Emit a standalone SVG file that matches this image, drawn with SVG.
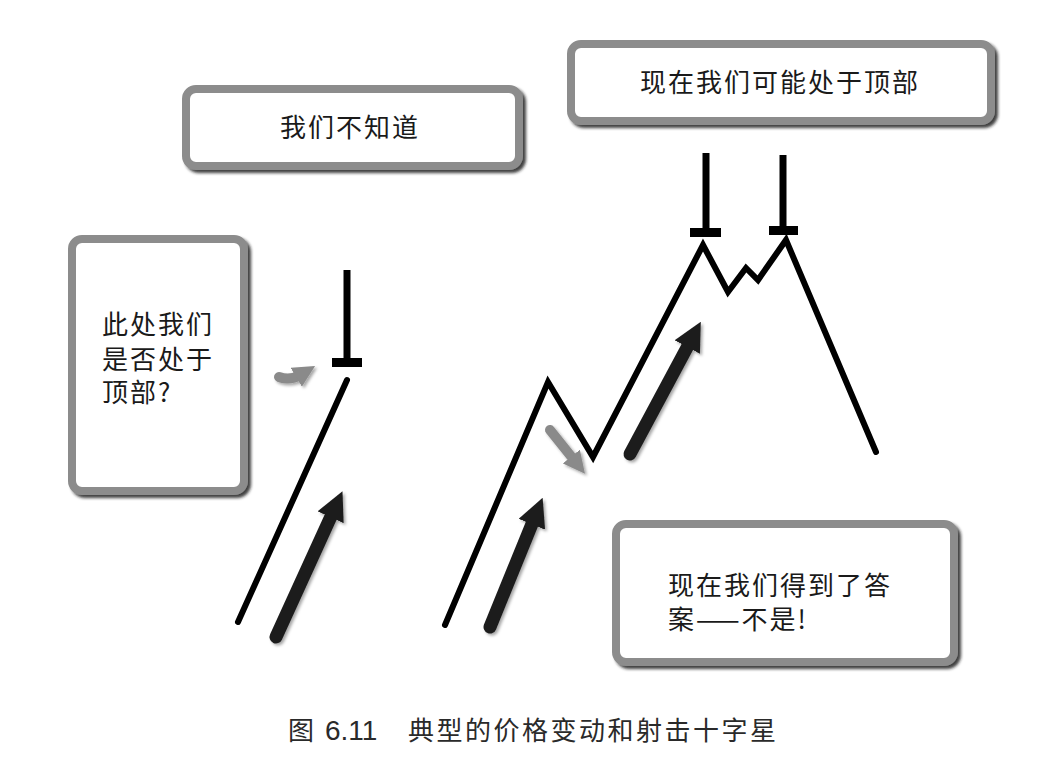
<svg xmlns="http://www.w3.org/2000/svg" width="1061" height="773" viewBox="0 0 1061 773">
<defs>
<style>
.box{fill:#fff;stroke:#8c8c8c;stroke-width:8;filter:url(#sh)}
.t{font-family:"Noto Sans CJK SC","Liberation Sans",sans-serif;font-size:26px;fill:#1a1a1a;letter-spacing:2px}
.cap{font-family:"Noto Sans CJK SC","Liberation Sans",sans-serif;font-size:26px;fill:#2a2a2a}
.num{font-family:"Liberation Sans",Arial,sans-serif;font-size:28px;fill:#2a2a2a}
.price{fill:none;stroke:#000;stroke-width:6;stroke-linejoin:miter;stroke-linecap:round}
.big{stroke:#1e1e1e;stroke-width:13;stroke-linecap:round;fill:none;marker-end:url(#hb);filter:url(#sa)}
.gray{stroke:#8a8a8a;stroke-width:10;stroke-linecap:round;fill:none;marker-end:url(#hg);filter:url(#sa)}
</style>
<filter id="sh" x="-10%" y="-10%" width="120%" height="130%">
<feDropShadow dx="3" dy="3" stdDeviation="1.5" flood-color="#1a1a1a" flood-opacity="0.85"/>
</filter>
<filter id="sa" filterUnits="userSpaceOnUse" x="0" y="0" width="1061" height="773">
<feDropShadow dx="2" dy="2" stdDeviation="1.5" flood-color="#000" flood-opacity="0.35"/>
</filter>
<marker id="hb" viewBox="0 0 10 10" refX="2" refY="5" markerWidth="2.2" markerHeight="2.2" orient="auto" markerUnits="strokeWidth">
<path d="M0,0 L10,5 L0,10 z" fill="#1e1e1e"/>
</marker>
<marker id="hg" viewBox="0 0 10 10" refX="2" refY="5" markerWidth="2.2" markerHeight="2.2" orient="auto" markerUnits="strokeWidth">
<path d="M0,0 L10,5 L0,10 z" fill="#8a8a8a"/>
</marker>
</defs>
<rect width="1061" height="773" fill="#fff"/>

<g id="box-dontknow">
<rect class="box" x="186" y="89" width="333" height="77" rx="10"/>
<text class="t" x="280" y="137">我们不知道</text>
</g>
<g id="box-maybetop">
<rect class="box" x="571" y="44" width="420" height="77" rx="10"/>
<text class="t" x="640" y="92">现在我们可能处于顶部</text>
</g>
<g id="box-question">
<rect class="box" x="72" y="239" width="172" height="252" rx="10"/>
<text class="t" x="102" y="334">此处我们</text>
<text class="t" x="102" y="369">是否处于</text>
<text class="t" x="102" y="402">顶部?</text>
</g>
<g id="box-answer">
<rect class="box" x="616" y="524" width="338" height="138" rx="10"/>
<text class="t" x="668" y="595">现在我们得到了答</text>
<text class="t" x="668" y="629">案——不是!</text>
</g>

<g id="chart-left">
<line class="price" x1="238" y1="622" x2="347" y2="380"/>
<line x1="347" y1="270" x2="347" y2="360" stroke="#000" stroke-width="7"/>
<rect x="332" y="358" width="30" height="9" fill="#000"/>
</g>
<g id="chart-right">
<polyline class="price" points="445,625 548,382 593,457 703,245 728,292 746,268 758,280 786,240 876,452"/>
<line x1="706" y1="153" x2="706" y2="230" stroke="#000" stroke-width="7"/>
<rect x="690" y="228" width="31" height="9" fill="#000"/>
<line x1="783" y1="155" x2="783" y2="228" stroke="#000" stroke-width="7"/>
<rect x="769" y="226" width="29" height="9" fill="#000"/>
</g>

<g id="connectors">
<line class="big" x1="276" y1="637" x2="333" y2="512"/>
<line class="big" x1="490" y1="627" x2="534" y2="519"/>
<line class="big" x1="630" y1="454" x2="690" y2="342"/>
<path class="gray" d="M279,377 Q290,381 300,375"/>
<line class="gray" x1="550" y1="430" x2="574" y2="460"/>
</g>

<g id="caption">
<text class="cap" x="288" y="740">图</text>
<text class="num" x="325" y="740">6.11</text>
<text class="cap" x="408" y="740" letter-spacing="2.5">典型的价格变动和射击十字星</text>
</g>
</svg>
